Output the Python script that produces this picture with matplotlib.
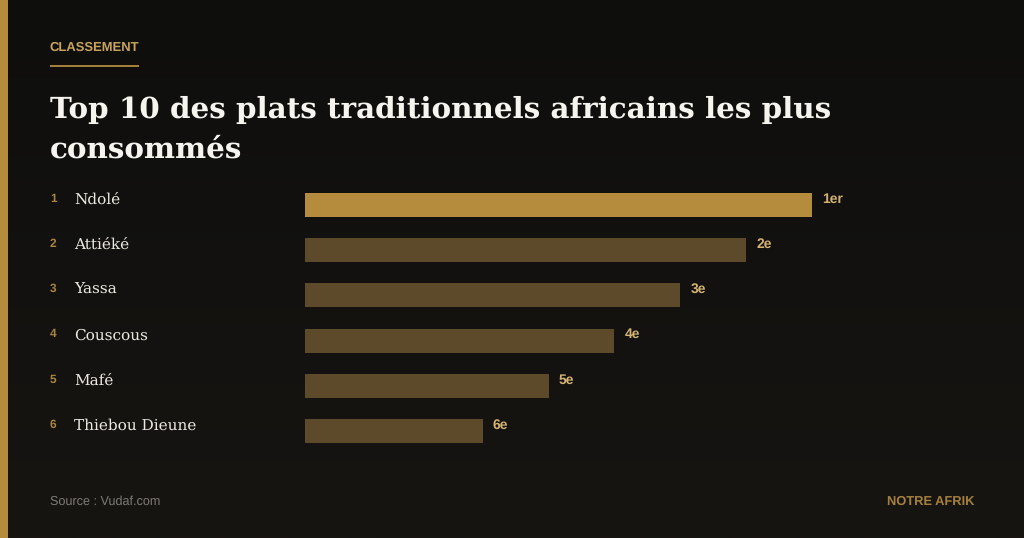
import numpy as np
import matplotlib
matplotlib.use("Agg")
import matplotlib.pyplot as plt
from matplotlib.patches import Rectangle
from matplotlib.lines import Line2D

plt.rcParams["text.hinting"] = "no_hinting"
plt.rcParams["text.hinting_factor"] = 8

ranks = ["1", "2", "3", "4", "5", "6"]
plats = ["Ndolé", "Attiéké", "Yassa", "Couscous", "Mafé", "Thiebou Dieune"]
scores = [100, 87, 74, 61, 48, 35]
rang_labels = ["1er", "2e", "3e", "4e", "5e", "6e"]

W, H = 1024, 538
GOLD = "#b58c3e"
DIM = "#5c4a2a"
LABEL = "#d4b272"
SANS = "Liberation Sans"
SERIF = "DejaVu Serif"

fig = plt.figure(figsize=(W / 100, H / 100), dpi=100)

def fx(x): return x / W
def fy(y): return 1 - y / H

# background
bg = fig.add_axes([0, 0, 1, 1], zorder=0)
grad = np.linspace(0, 1, 256).reshape(-1, 1, 1)
top = np.array([0x0e, 0x0e, 0x0d]).reshape(1, 1, 3) / 255
bot = np.array([0x17, 0x15, 0x12]).reshape(1, 1, 3) / 255
bg.imshow(top + (bot - top) * grad, aspect="auto", extent=[0, 1, 0, 1], origin="upper")
bg.axis("off")
fig.add_artist(Rectangle((0, 0), fx(8), 1, transform=fig.transFigure, color=GOLD, lw=0, zorder=1))

# bars: x 0..100 spans the first bar's pixel width
top_px, step = 193.0, 45.2
bar_h = 24.0
ax = fig.add_axes([fx(305.4), fy(445), fx(506.6), (445 - 190) / H], zorder=2)
ax.patch.set_alpha(0)
ax.set_xlim(0, 100)
y_to_idx = lambda p: (p - (top_px + bar_h / 2)) / step
ax.set_ylim(y_to_idx(445), y_to_idx(190))
pos = np.arange(len(plats))
colors = [GOLD] + [DIM] * (len(plats) - 1)
ax.barh(pos, scores, height=bar_h / step, color=colors, linewidth=0)
ax.axis("off")

for i, (r, p, s, lab) in enumerate(zip(ranks, plats, scores, rang_labels)):
    fig.text(fx(50), fy(201.8 + i * step), r, fontsize=8.6, fontweight="bold", family=SANS,
             color="#a88540", ha="left", va="baseline", zorder=3)
    fig.text(fx(74.3), fy(203.8 + i * step), p, fontsize=11.03, family=SERIF, color="#ece9e2",
             ha="left", va="baseline", zorder=3)
    ax.annotate(lab, xy=(s, i), xycoords="data", xytext=(10.2 * 0.72, 2.3 * 0.72),
                textcoords="offset points", fontsize=10, fontweight="bold", family=SANS,
                color=LABEL, ha="left", va="baseline", annotation_clip=False)

fig.text(fx(49.5), fy(50.6), "CLASSEMENT", fontsize=9.4, fontweight="bold", family=SANS,
         color="#c8a45c", ha="left", va="baseline", zorder=3)
fig.add_artist(Line2D([fx(50), fx(139)], [fy(65.5), fy(65.5)], transform=fig.transFigure,
                      color=GOLD, lw=1.3, solid_capstyle="butt", zorder=3))
fig.text(fx(50), fy(118.3), "Top 10 des plats traditionnels africains les plus",
         fontsize=21.16, fontweight="bold", family=SERIF, color="#f6f4ef",
         ha="left", va="baseline", zorder=3)
fig.text(fx(50), fy(157.3), "consommés", fontsize=21.16, fontweight="bold", family=SERIF,
         color="#f6f4ef", ha="left", va="baseline", zorder=3)
fig.text(fx(50), fy(505), "Source : Vudaf.com", fontsize=9.1, family=SANS, color="#7e7b75",
         ha="left", va="baseline", zorder=3)
fig.text(fx(974), fy(505.3), "NOTRE AFRIK", fontsize=9.27, fontweight="bold", family=SANS,
         color="#a5803c", ha="right", va="baseline", zorder=3)

fig.savefig("out.png", dpi=100, facecolor="#111010")
